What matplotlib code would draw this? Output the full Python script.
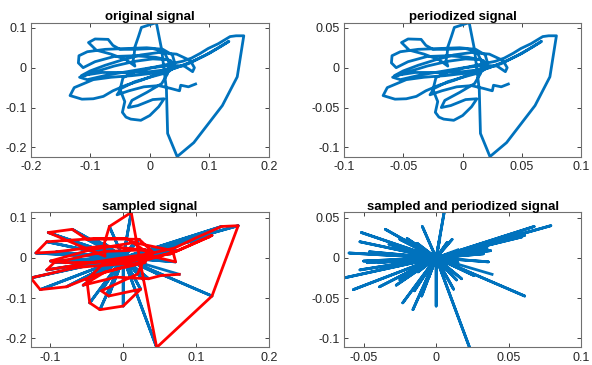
import numpy as np
import matplotlib
matplotlib.use('Agg')
import matplotlib.pyplot as plt

plt.rcParams['font.family'] = ['Liberation Sans', 'DejaVu Sans']
plt.rcParams['axes.unicode_minus'] = False

orig_x = [0.077, 0.065, 0.052, 0.050, 0.035, 0.015, -0.010, -0.035, -0.055, -0.048,
          -0.025, 0.005, 0.030, 0.042, 0.035, 0.010, -0.025, -0.060, -0.092, -0.112,
          -0.120, -0.119, -0.105, -0.075, -0.040, -0.005, 0.022, 0.038, 0.042, 0.030,
          0.005, -0.030, -0.065, -0.095, -0.127, -0.134, -0.114, -0.095, -0.078, -0.062,
          -0.040, -0.015, 0.015, 0.045, 0.075, 0.100, 0.122, 0.133, 0.118, 0.092,
          0.065, 0.035, 0.000, -0.040, -0.080, -0.115, -0.100, -0.075, -0.045, -0.015,
          0.015, 0.045, 0.068, 0.075, 0.072, 0.058, 0.035, 0.005, -0.025, -0.045,
          -0.050, -0.042, -0.046, -0.040, -0.032, -0.015, 0.000, 0.015, 0.024, 0.005,
          -0.020, -0.036, -0.030, -0.005, 0.020, 0.030, 0.032, 0.024, 0.005, -0.025,
          -0.050, -0.062, -0.070, -0.092, -0.103, -0.090, -0.065, -0.040, -0.025, -0.028,
          -0.026, -0.025, -0.019, -0.014, 0.011, 0.020, 0.028, 0.030, 0.046, 0.074,
          0.122, 0.147, 0.158, 0.145, 0.135, 0.115, 0.098, 0.085, 0.070, 0.055,
          0.035, 0.010, -0.030, -0.070, -0.105, -0.118, -0.095, -0.060, -0.025, 0.005,
          0.030]
orig_y = [-0.041, -0.048, -0.044, -0.058, -0.052, -0.045, -0.048, -0.058, -0.068, -0.052,
          -0.035, -0.022, -0.012, 0.002, 0.018, 0.026, 0.030, 0.028, 0.015, 0.000,
          0.012, 0.030, 0.040, 0.046, 0.048, 0.050, 0.046, 0.032, 0.012, -0.004,
          -0.014, -0.020, -0.024, -0.030, -0.050, -0.070, -0.079, -0.078, -0.072, -0.058,
          -0.044, -0.032, -0.015, 0.000, 0.018, 0.036, 0.056, 0.066, 0.052, 0.030,
          0.010, -0.004, -0.010, -0.012, -0.012, -0.020, -0.008, 0.006, 0.020, 0.032,
          0.038, 0.034, 0.018, 0.000, -0.010, 0.004, 0.006, 0.000, -0.010, -0.025,
          -0.055, -0.085, -0.112, -0.124, -0.129, -0.132, -0.120, -0.098, -0.078, -0.080,
          -0.095, -0.100, -0.082, -0.062, -0.040, -0.015, 0.015, 0.040, 0.048, 0.046,
          0.046, 0.056, 0.071, 0.072, 0.063, 0.044, 0.034, 0.020, 0.004, 0.018,
          0.036, 0.052, 0.078, 0.101, 0.113, 0.045, -0.055, -0.165, -0.223, -0.188,
          -0.095, -0.023, 0.080, 0.080, 0.078, 0.060, 0.048, 0.036, 0.024, 0.016,
          0.010, 0.002, -0.008, -0.018, -0.030, -0.024, -0.012, 0.004, 0.016, 0.022,
          0.020]

sample_step = 2      # keep every 2nd value
period_scale = 0.5   # periodizing halves the amplitude

z = np.array(orig_x) + 1j * np.array(orig_y)
zs = z[::sample_step]                      # sampled values
zup = np.zeros(len(z), dtype=complex)      # sampled, zeros in between
zup[::sample_step] = zs

blue = '#0072BD'
edge = '#707070'


def style(ax, title, xt, yt, xlim, ylim):
    ax.set_title(title, fontsize=9.5, fontweight='bold', pad=2)
    ax.set_xticks(xt)
    ax.set_yticks(yt)
    ax.set_xticklabels(['%g' % v for v in xt])
    ax.set_yticklabels(['%g' % v for v in yt])
    ax.set_xlim(*xlim)
    ax.set_ylim(*ylim)
    ax.tick_params(direction='in', length=3, width=0.6, labelsize=9,
                   top=True, right=True, colors='#262626', pad=3)
    for s in ax.spines.values():
        s.set_color(edge)
        s.set_linewidth(0.8)


fig = plt.figure(figsize=(5.92, 3.65), dpi=100)
ax1 = fig.add_axes([0.052, 0.571, 0.402, 0.367])
ax2 = fig.add_axes([0.581, 0.571, 0.401, 0.367])
ax3 = fig.add_axes([0.052, 0.048, 0.402, 0.370])
ax4 = fig.add_axes([0.581, 0.048, 0.401, 0.370])

ax1.plot(z.real, z.imag, color=blue, lw=2)
style(ax1, 'original signal', [-0.2, -0.1, 0, 0.1, 0.2], [-0.2, -0.1, 0, 0.1],
      (-0.2, 0.2), (z.imag.min(), z.imag.max()))

zp = z * period_scale
ax2.plot(zp.real, zp.imag, color=blue, lw=2)
style(ax2, 'periodized signal', [-0.1, -0.05, 0, 0.05, 0.1], [-0.1, -0.05, 0, 0.05],
      (-0.1, 0.1), (zp.imag.min(), zp.imag.max()))

ax3.plot(zup.real, zup.imag, color=blue, lw=2)
ax3.plot(zs.real, zs.imag, color='red', lw=2)
style(ax3, 'sampled signal', [-0.1, 0, 0.1, 0.2], [-0.2, -0.1, 0, 0.1],
      (zs.real.min(), 0.2), (zs.imag.min(), zs.imag.max()))

zsp = zup * period_scale
ax4.plot(zsp.real, zsp.imag, color=blue, lw=2)
style(ax4, 'sampled and periodized signal', [-0.05, 0, 0.05, 0.1], [-0.1, -0.05, 0, 0.05],
      (zsp.real.min(), 0.1), (zsp.imag.min(), zsp.imag.max()))

plt.savefig('out.png', dpi=100)
